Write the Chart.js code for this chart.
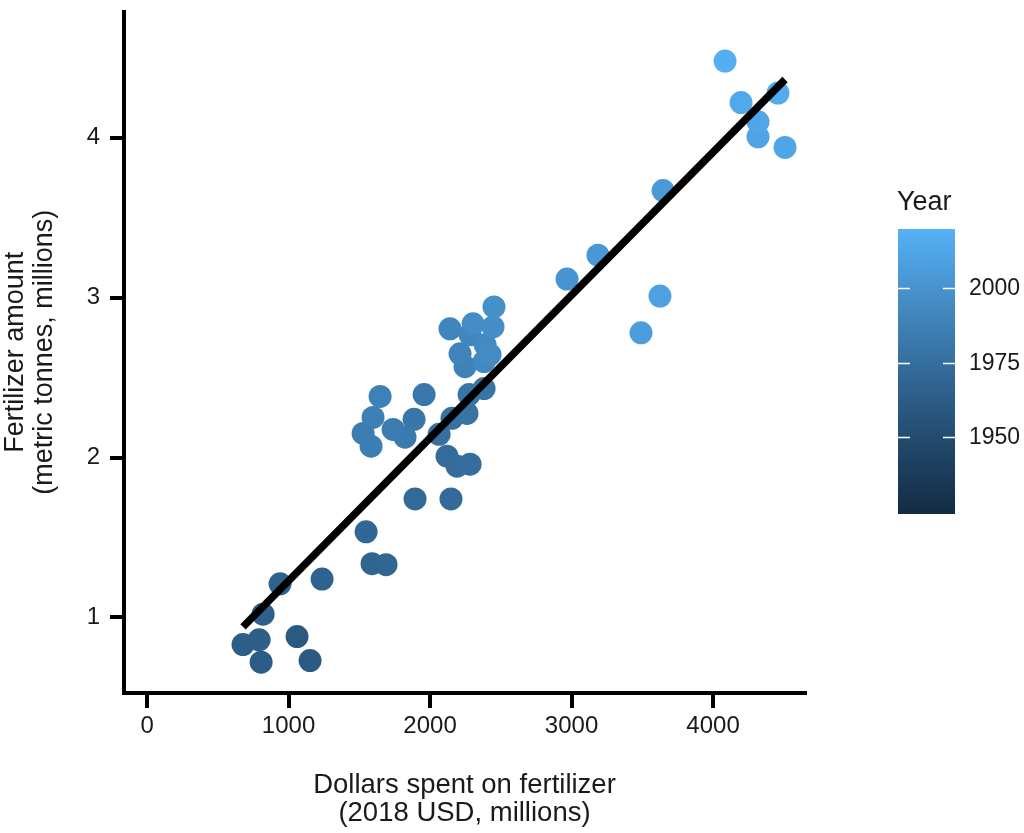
<!DOCTYPE html>
<html>
<head>
<meta charset="utf-8">
<script src="https://cdn.jsdelivr.net/npm/chart.js@4.4.1/dist/chart.umd.min.js"></script>
<style>
  html, body { margin: 0; padding: 0; background: #fff; }
  #wrap { width: 1024px; height: 833px; }
</style>
</head>
<body>
<div id="wrap"><canvas id="fertChart" width="1024" height="833"></canvas></div>
<script>
// values
const years = [
  1960, 1961, 1962, 1963, 1964, 1965, 1966, 1967,
  1968, 1969, 1970,
  1971, 1972, 1973, 1974, 1975, 1976, 1977, 1978, 1979, 1980,
  1981, 1982, 1983, 1984, 1985, 1986, 1987, 1988,
  1989, 1990, 1991, 1992, 1993, 1994, 1995, 1996, 1997, 1998,
  2001, 2003, 2005, 2007, 2009, 2011, 2012, 2013, 2014, 2016, 2018
];
const dollars = [
  1060, 1152, 806, 678, 792, 820, 940, 1237,
  1590, 1689, 1548,
  1894, 2148, 2120, 2191, 2283, 2064, 2155, 2261, 2276, 2382,
  1887, 1958, 1823, 1739, 1527, 1583, 1597, 1647,
  2247, 2212, 2141, 2283, 2382, 2389, 2424, 2304, 2445, 2452,
  2968, 3187, 3647, 3491, 3625, 4318, 4509, 4318, 4198, 4459, 4085
];
const tonnes = [
  0.88, 0.73, 0.72, 0.83, 0.86, 1.02, 1.21, 1.24,
  1.336, 1.33, 1.535,
  1.741, 1.741, 2.008, 1.946, 1.958, 2.145, 2.245, 2.276, 2.394, 2.431,
  2.239, 2.394, 2.127, 2.176, 2.151, 2.071, 2.251, 2.382,
  2.568, 2.649, 2.805, 2.768, 2.60, 2.705, 2.643, 2.836, 2.817, 2.942,
  3.116, 3.266, 3.67, 2.78, 3.01, 4.006, 3.94, 4.10, 4.22, 4.28, 4.48
];
const xTicks = [0, 1000, 2000, 3000, 4000];
const yTicks = [1, 2, 3, 4];
const yearTicks = [1950, 1975, 2000];
const yearRange = [1924, 2020];

// ggplot-like gradient (#132B43 -> #56B1F7) interpolated in Lab
function hexToRgb(h) {
  return [1, 3, 5].map(i => parseInt(h.slice(i, i + 2), 16));
}
function rgbToLab([r, g, b]) {
  const lin = c => { c /= 255; return c <= 0.04045 ? c / 12.92 : Math.pow((c + 0.055) / 1.055, 2.4); };
  const R = lin(r), G = lin(g), B = lin(b);
  let X = (R * 0.4124 + G * 0.3576 + B * 0.1805) / 0.95047;
  let Y = (R * 0.2126 + G * 0.7152 + B * 0.0722);
  let Z = (R * 0.0193 + G * 0.1192 + B * 0.9505) / 1.08883;
  const f = t => t > 0.008856 ? Math.cbrt(t) : 7.787 * t + 16 / 116;
  X = f(X); Y = f(Y); Z = f(Z);
  return [116 * Y - 16, 500 * (X - Y), 200 * (Y - Z)];
}
function labToRgb([L, a, bb]) {
  let Y = (L + 16) / 116, X = a / 500 + Y, Z = Y - bb / 200;
  const fi = t => t * t * t > 0.008856 ? t * t * t : (t - 16 / 116) / 7.787;
  X = fi(X) * 0.95047; Y = fi(Y); Z = fi(Z) * 1.08883;
  let R = X * 3.2406 + Y * -1.5372 + Z * -0.4986;
  let G = X * -0.9689 + Y * 1.8758 + Z * 0.0415;
  let B = X * 0.0557 + Y * -0.2040 + Z * 1.0570;
  const g = c => Math.round(255 * Math.min(1, Math.max(0, c <= 0.0031308 ? 12.92 * c : 1.055 * Math.pow(c, 1 / 2.4) - 0.055)));
  return [g(R), g(G), g(B)];
}
const lowLab = rgbToLab(hexToRgb('#132B43'));
const highLab = rgbToLab(hexToRgb('#56B1F7'));
function yearColor(yr) {
  const t = Math.min(1, Math.max(0, (yr - yearRange[0]) / (yearRange[1] - yearRange[0])));
  const c = labToRgb(lowLab.map((v, i) => v + (highLab[i] - v) * t));
  return `rgb(${c[0]},${c[1]},${c[2]})`;
}

// least squares fit, drawn across the data range
const n = dollars.length;
const mx = dollars.reduce((a, b) => a + b, 0) / n;
const my = tonnes.reduce((a, b) => a + b, 0) / n;
let sxy = 0, sxx = 0;
for (let i = 0; i < n; i++) {
  sxy += (dollars[i] - mx) * (tonnes[i] - my);
  sxx += (dollars[i] - mx) ** 2;
}
const slope = sxy / sxx;
const intercept = my - slope * mx;
const xLo = Math.min(...dollars), xHi = Math.max(...dollars);
const fitLine = [xLo, xHi].map(x => ({ x: x, y: intercept + slope * x }));

const FONT = 'Liberation Sans, Arial, Helvetica, sans-serif';
const TEXT = '#1a1a1a';

const colorbar = {
  id: 'colorbar',
  afterDraw(chart) {
    const ctx = chart.ctx;
    const left = 898, width = 57, top = 229, bottom = 514;
    const yPos = yr => bottom - (yr - yearRange[0]) / (yearRange[1] - yearRange[0]) * (bottom - top);
    ctx.save();
    const grad = ctx.createLinearGradient(0, bottom, 0, top);
    for (let s = 0; s <= 20; s++) {
      grad.addColorStop(s / 20, yearColor(yearRange[0] + (yearRange[1] - yearRange[0]) * s / 20));
    }
    ctx.fillStyle = grad;
    ctx.fillRect(left, top, width, bottom - top);
    ctx.strokeStyle = '#fff';
    ctx.lineWidth = 1.5;
    ctx.fillStyle = TEXT;
    ctx.font = `23px ${FONT}`;
    ctx.textAlign = 'left';
    ctx.textBaseline = 'middle';
    yearTicks.forEach(yr => {
      const y = Math.round(yPos(yr)) + 0.5;
      ctx.beginPath();
      ctx.moveTo(left, y); ctx.lineTo(left + 12, y);
      ctx.moveTo(left + width - 12, y); ctx.lineTo(left + width, y);
      ctx.stroke();
      ctx.fillText(String(yr), left + width + 14, y);
    });
    ctx.font = `27px ${FONT}`;
    ctx.fillText('Year', 897, 203);
    ctx.restore();
  }
};

new Chart(document.getElementById('fertChart'), {
  type: 'scatter',
  data: {
    datasets: [
      {
        label: 'fit',
        data: fitLine,
        showLine: true,
        borderColor: '#000',
        borderWidth: 7.5,
        borderCapStyle: 'butt',
        pointRadius: 0,
        order: 0
      },
      {
        label: 'Year',
        data: dollars.map((d, i) => ({ x: d, y: tonnes[i] })),
        backgroundColor: years.map(yearColor),
        borderWidth: 0,
        pointRadius: 11.5,
        order: 1
      }
    ]
  },
  options: {
    responsive: false,
    animation: false,
    layout: { padding: { left: 0, top: 8, right: 219, bottom: 0 } },
    plugins: { legend: { display: false }, tooltip: { enabled: false } },
    scales: {
      x: {
        type: 'linear',
        min: -163,
        max: 4650,
        afterBuildTicks: s => { s.ticks = xTicks.map(v => ({ value: v })); },
        afterFit: s => { s.height = 140; },
        border: { display: true, color: '#000', width: 4 },
        grid: { drawOnChartArea: false, drawTicks: true, tickLength: 15, tickWidth: 4, tickColor: '#000', color: '#000', lineWidth: 4 },
        ticks: { color: TEXT, font: { family: FONT, size: 24 }, padding: 4, maxRotation: 0, callback: v => String(v) },
        title: {
          display: true,
          text: ['Dollars spent on fertilizer', '(2018 USD, millions)'],
          color: TEXT,
          font: { family: FONT, size: 27.5, lineHeight: 1.0 },
          padding: { top: 0, bottom: 6 }
        }
      },
      y: {
        type: 'linear',
        min: 0.527,
        max: 4.79,
        afterBuildTicks: s => { s.ticks = yTicks.map(v => ({ value: v })); },
        afterFit: s => { s.width = 124; s.paddingTop = 0; s.paddingBottom = 0; },
        border: { display: true, color: '#000', width: 4 },
        grid: { drawOnChartArea: false, drawTicks: true, tickLength: 14, tickWidth: 4, tickColor: '#000', color: '#000', lineWidth: 4 },
        ticks: { color: TEXT, font: { family: FONT, size: 24 }, padding: 10, callback: v => String(v) },
        title: {
          display: true,
          text: ['Fertilizer amount', '(metric tonnes, millions)'],
          color: TEXT,
          font: { family: FONT, size: 27, lineHeight: 1.04 },
          padding: { top: 2, bottom: 0 }
        }
      }
    }
  },
  plugins: [colorbar]
});
</script>
</body>
</html>
